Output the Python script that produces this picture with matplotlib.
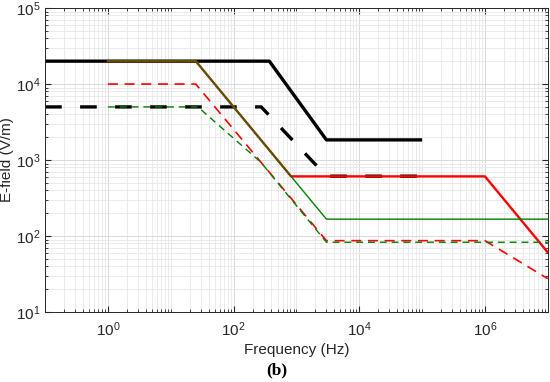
import matplotlib

matplotlib.use("Agg")
import matplotlib.pyplot as plt
import numpy as np
from matplotlib.ticker import FixedLocator, NullFormatter

# IEEE C95.6 style limits (black), ICNIRP style limits (red / green)
black_solid_f = [0.1, 370, 3000, 1e5]
black_solid_e = [2e4, 2e4, 1842, 1842]

black_dash_f = [0.1, 275, 3000, 1e5]
black_dash_e = [5000, 5000, 614, 614]

red_solid_f = [1, 25, 820, 1e6, 1e7]
red_solid_e = [2e4, 2e4, 610, 610, 61]

green_solid_f = [1, 25, 3000, 1e7]
green_solid_e = [2e4, 2e4, 167, 167]

red_dash_f = [1, 25, 3000, 1e6, 1e7]
red_dash_e = [1e4, 1e4, 87, 87, 27.5]

green_dash_f = [1, 27, 270, 3000, 1e7]
green_dash_e = [5000, 5000, 940, 83, 83]

x_major = [1, 1e2, 1e4, 1e6]
y_major = [1e1, 1e2, 1e3, 1e4, 1e5]

plt.rcParams["font.family"] = ["Liberation Sans", "DejaVu Sans"]

fig = plt.figure(figsize=(5.5, 3.82), dpi=100)
ax = fig.add_axes([0.082, 0.183, 0.914, 0.796])

ax.plot(black_solid_f, black_solid_e, color="black", lw=2.4, solid_capstyle="butt")
ax.plot(black_dash_f, black_dash_e, color="black", lw=2.4, dashes=(5, 5.5))
ax.plot(red_solid_f, red_solid_e, color="#ff0000", lw=1.7)
ax.plot(green_solid_f, green_solid_e, color="#008000", lw=1.0)
ax.plot(red_dash_f, red_dash_e, color="#ff0000", lw=1.2, dashes=(6, 4))
ax.plot(green_dash_f, green_dash_e, color="#008000", lw=1.0, dashes=(5, 3.5))

ax.set_xscale("log")
ax.set_yscale("log")
ax.set_xlim(0.1, 1e7)
ax.set_ylim(10, 1e5)

ax.xaxis.set_major_locator(FixedLocator(x_major))
minor_x = [m * 10.0 ** d for d in range(-1, 7) for m in range(1, 10)
           if m * 10.0 ** d not in x_major]
ax.xaxis.set_minor_locator(FixedLocator(minor_x))
ax.xaxis.set_minor_formatter(NullFormatter())
ax.yaxis.set_major_locator(FixedLocator(y_major))
minor_y = [m * 10.0 ** d for d in range(1, 5) for m in range(2, 10)]
ax.yaxis.set_minor_locator(FixedLocator(minor_y))
ax.yaxis.set_minor_formatter(NullFormatter())

ax.grid(True, which="major", color="#d9d9d9", lw=0.7)
ax.grid(True, which="minor", color="#e8e8e8", lw=0.6)
ax.set_axisbelow(True)

for sp in ax.spines.values():
    sp.set_color("#262626")
    sp.set_linewidth(0.7)
ax.tick_params(which="both", direction="in", top=True, right=True,
               colors="#262626", labelsize=11)
ax.tick_params(axis="x", pad=6)
ax.tick_params(which="major", length=4)
ax.tick_params(which="minor", length=2)

ax.set_xlabel("Frequency (Hz)", fontsize=11, color="#262626", labelpad=3)
ax.set_ylabel("E-field (V/m)", fontsize=11, color="#262626", labelpad=1)

fig.text(0.503, 0.030, "(b)", ha="center", va="center", fontsize=12.5,
         fontweight="bold", family=["Liberation Serif", "DejaVu Serif"])

fig.savefig("out.png", dpi=100)
